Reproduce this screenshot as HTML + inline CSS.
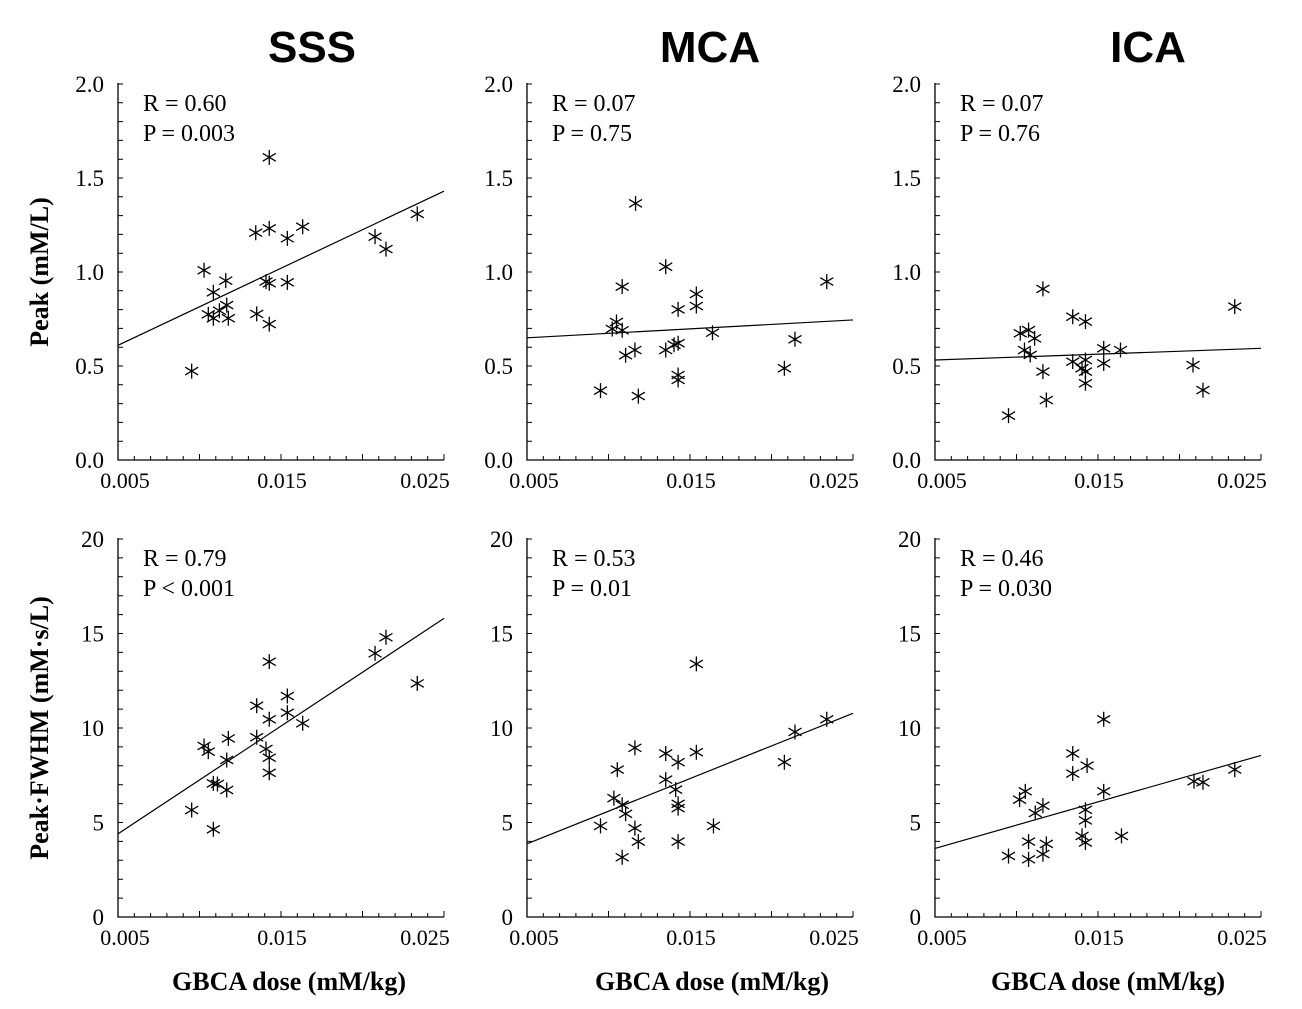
<!DOCTYPE html>
<html><head><meta charset="utf-8"><style>
html,body{margin:0;padding:0;background:#fff;}
svg{display:block;}
</style></head><body>
<svg id="fig" width="1302" height="1009" viewBox="0 0 1302 1009" xmlns="http://www.w3.org/2000/svg">
<g font-family="Liberation Sans, Arial, sans-serif" font-weight="bold" font-size="44" text-anchor="middle">
<text x="312" y="62">SSS</text>
<text x="710" y="62">MCA</text>
<text x="1148" y="62">ICA</text>
</g>
<g font-family="Liberation Serif, serif" font-weight="bold" font-size="26" text-anchor="middle">
<text transform="translate(48,272) rotate(-90)">Peak (mM/L)</text>
<text transform="translate(48,728) rotate(-90)">Peak·FWHM (mM·s/L)</text>
<text x="289" y="990">GBCA dose (mM/kg)</text>
<text x="712" y="990">GBCA dose (mM/kg)</text>
<text x="1108" y="990">GBCA dose (mM/kg)</text>
</g>
<g id="plots"></g>
</svg>
<script>
// SSS Peak
const sssPeakX=[0.00952,0.01028,0.01085,0.01054,0.01085,0.01122,0.01167,0.01161,0.01177,0.01345,0.01351,0.01428,0.01408,0.01428,0.01428,0.01428,0.01539,0.01539,0.01633,0.02077,0.02144,0.02336];
const sssPeakY=[0.473,1.009,0.892,0.775,0.754,0.794,0.824,0.954,0.754,1.209,0.777,1.232,0.949,0.940,1.610,0.723,1.179,0.945,1.241,1.188,1.122,1.309];
const sssPeakFit=[0.61,1.43];
// SSS Peak*FWHM
const sssAucX=[0.00952,0.01028,0.01054,0.01085,0.0111,0.01085,0.01177,0.01167,0.01167,0.01351,0.01351,0.01408,0.01428,0.01428,0.01428,0.01428,0.01539,0.01539,0.01633,0.02077,0.02144,0.02336];
const sssAucY=[5.66,9.05,8.75,7.07,7.04,4.64,9.45,8.31,6.72,11.18,9.51,8.89,8.43,7.63,13.51,10.46,11.69,10.81,10.25,13.95,14.8,12.36];
const sssAucFit=[4.4,15.8];
// MCA Peak
const mcaPeakX=[0.00951,0.01049,0.01023,0.01084,0.01084,0.01105,0.01162,0.01166,0.01183,0.01351,0.01351,0.01402,0.01427,0.01427,0.01427,0.01427,0.01539,0.01539,0.01638,0.02079,0.02144,0.02339];
const mcaPeakY=[0.369,0.734,0.697,0.690,0.922,0.557,0.585,1.365,0.340,1.028,0.585,0.613,0.621,0.801,0.452,0.426,0.883,0.819,0.677,0.488,0.642,0.949];
const mcaPeakFit=[0.65,0.745];
// MCA Peak*FWHM
const mcaAucX=[0.00951,0.01054,0.01033,0.01084,0.01105,0.01084,0.01162,0.01162,0.01183,0.01351,0.01351,0.01412,0.01427,0.01427,0.01427,0.01427,0.01539,0.01539,0.01644,0.02079,0.02144,0.02339];
const mcaAucY=[4.82,7.80,6.29,5.94,5.46,3.16,8.95,4.70,3.99,8.65,7.27,6.74,8.19,5.99,5.76,3.99,13.39,8.72,4.82,8.19,9.79,10.46];
const mcaAucFit=[3.87,10.78];
// ICA Peak
const icaPeakX=[0.00951,0.01023,0.01049,0.01074,0.01084,0.01111,0.01162,0.01162,0.01183,0.01345,0.01345,0.01402,0.01423,0.01423,0.01423,0.01423,0.01535,0.01535,0.01638,0.02083,0.02144,0.02339];
const icaPeakY=[0.236,0.674,0.585,0.691,0.559,0.647,0.470,0.910,0.319,0.762,0.523,0.488,0.736,0.532,0.470,0.408,0.594,0.514,0.585,0.505,0.372,0.816];
const icaPeakFit=[0.532,0.594];
// ICA Peak*FWHM
const icaAucX=[0.00951,0.01019,0.01054,0.01074,0.01074,0.01115,0.01162,0.01162,0.01183,0.01345,0.01345,0.01402,0.01433,0.01423,0.01423,0.01423,0.01535,0.01535,0.01644,0.02089,0.02144,0.02339];
const icaAucY=[3.23,6.21,6.65,3.99,3.05,5.50,5.89,3.33,3.87,8.65,7.59,4.29,8.01,5.67,5.11,3.94,10.46,6.65,4.29,7.18,7.13,7.80];
const icaAucFit=[3.63,8.55];

const xTickLabels=["0.005","0.015","0.025"];
const peakTickLabels=["0.0","0.5","1.0","1.5","2.0"];
const aucTickLabels=["0","5","10","15","20"];
const xDomain=[0.005,0.025];

const NS="http://www.w3.org/2000/svg";
const root=document.getElementById('plots');
function mk(tag,attrs,parent){const e=document.createElementNS(NS,tag);for(const k in attrs)e.setAttribute(k,attrs[k]);parent.appendChild(e);return e;}

const panels=[
 {id:'sss-peak',left:118,top:84,bottom:460,ymax:2,xs:sssPeakX,ys:sssPeakY,fit:sssPeakFit,yt:peakTickLabels,minor:0.1,r:"R = 0.60",p:"P = 0.003"},
 {id:'mca-peak',left:527,top:84,bottom:460,ymax:2,xs:mcaPeakX,ys:mcaPeakY,fit:mcaPeakFit,yt:peakTickLabels,minor:0.1,r:"R = 0.07",p:"P = 0.75"},
 {id:'ica-peak',left:935,top:84,bottom:460,ymax:2,xs:icaPeakX,ys:icaPeakY,fit:icaPeakFit,yt:peakTickLabels,minor:0.1,r:"R = 0.07",p:"P = 0.76"},
 {id:'sss-auc',left:118,top:539,bottom:917,ymax:20,xs:sssAucX,ys:sssAucY,fit:sssAucFit,yt:aucTickLabels,minor:1,r:"R = 0.79",p:"P < 0.001"},
 {id:'mca-auc',left:527,top:539,bottom:917,ymax:20,xs:mcaAucX,ys:mcaAucY,fit:mcaAucFit,yt:aucTickLabels,minor:1,r:"R = 0.53",p:"P = 0.01"},
 {id:'ica-auc',left:935,top:539,bottom:917,ymax:20,xs:icaAucX,ys:icaAucY,fit:icaAucFit,yt:aucTickLabels,minor:1,r:"R = 0.46",p:"P = 0.030"}
];
const W=326;
panels.forEach(pn=>{
 const g=mk('g',{},root);
 
 
 const sx=v=>pn.left+(v-xDomain[0])/(xDomain[1]-xDomain[0])*W;
 const sy=v=>pn.bottom-(v/pn.ymax)*(pn.bottom-pn.top);
 const ax=mk('path',{d:`M${pn.left},${pn.top-1}V${pn.bottom}H${pn.left+W}`,stroke:'#000','stroke-width':1.3,fill:'none'},g);
 
 
 let td='';
 const nY=Math.round(pn.ymax/pn.minor);
 for(let i=1;i<=nY;i++){const y=sy(i*pn.minor);td+=`M${pn.left},${y}h5`;}
 for(let i=1;i<=20;i++){const x=sx(0.005+i*0.001);td+=`M${x},${pn.bottom}v${i%5==0?-6:-4}`;}
 const tk=mk('path',{d:td,stroke:'#000','stroke-width':1,fill:'none'},g);
 
 
 pn.yt.forEach((lab,i)=>{
  const v=i*pn.ymax/(pn.yt.length-1);
  const t=mk('text',{x:pn.left-14,y:sy(v)+8,'text-anchor':'end','font-family':'Liberation Serif, serif','font-size':23},g);
  t.textContent=lab;
  
  
 });
 const xl=[0.005,0.015,0.025];
 const xoff=[7,1,-19];
 xTickLabels.forEach((lab,i)=>{
  const t=mk('text',{x:sx(xl[i])+xoff[i],y:pn.bottom+28,'text-anchor':'middle','font-family':'Liberation Serif, serif','font-size':22},g);
  t.textContent=lab;
  
  
 });
 const r=mk('text',{x:pn.left+25,y:pn.top+27,'font-family':'Liberation Serif, serif','font-size':24},g);
 r.textContent=pn.r;
 
 
 const p=mk('text',{x:pn.left+25,y:pn.top+57,'font-family':'Liberation Serif, serif','font-size':24},g);
 p.textContent=pn.p;
 
 
 const fl=mk('line',{x1:sx(xDomain[0]),y1:sy(pn.fit[0]),x2:sx(xDomain[1]),y2:sy(pn.fit[1]),stroke:'#000','stroke-width':1.2},g);
 
 
 pn.xs.forEach((xv,i)=>{
  const cx=sx(xv),cy=sy(pn.ys[i]),h=7.5,d=6.5;
  const s=mk('path',{d:`M${cx},${cy-h}V${cy+h}M${cx-d},${cy-d*0.6}L${cx+d},${cy+d*0.6}M${cx-d},${cy+d*0.6}L${cx+d},${cy-d*0.6}`,stroke:'#000','stroke-width':1.3,fill:'none'},g);
  
  
 });
});
</script>
</body></html>
